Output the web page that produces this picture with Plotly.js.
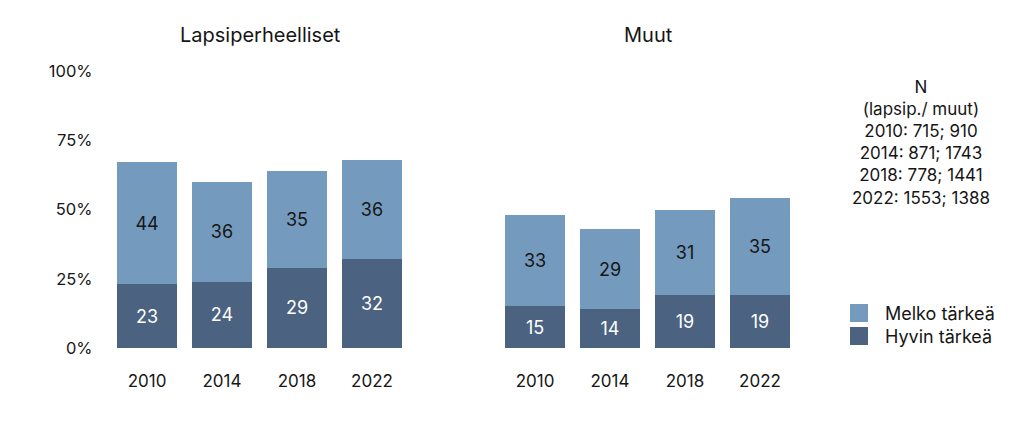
<!DOCTYPE html>
<html><head><meta charset="utf-8">
<script src="https://cdn.plot.ly/plotly-3.0.1.min.js"></script>
<style>html,body{margin:0;padding:0;background:#fff}#chart{width:1024px;height:440px}</style>
</head><body><div id="chart"></div>
<script>
const years = ['2010','2014','2018','2022'];
const lapsHyvin = [23,24,29,32];
const lapsMelko = [44,36,35,36];
const muutHyvin = [15,14,19,19];
const muutMelko = [33,29,31,35];
const panelTitles = ['Lapsiperheelliset','Muut'];
const seriesNames = ['Hyvin tärkeä','Melko tärkeä'];
const nLines = ['N','(lapsip./ muut)','2010: 715; 910','2014: 871; 1743','2018: 778; 1441','2022: 1553; 1388'];
const yTickVals = [0,25,50,75,100];
const yTickText = ['0%','25%','50%','75%','100%'];

const cDark = '#4b6281', cLight = '#749bbe', txt = '#161616';
const FONT = 'Inter, "Open Sans", sans-serif';

function bar(y, name, xa, ya, color, tcolor){
  return {type:'bar', x:years, y:y, name:name, xaxis:xa, yaxis:ya,
    marker:{color:color, line:{width:0}}, text:y.map(String), textposition:'inside',
    insidetextanchor:'middle', textangle:0, constraintext:'none',
    textfont:{family:FONT, size:18, color:tcolor}, hoverinfo:'skip', showlegend:false};
}
const data = [
  bar(lapsHyvin, seriesNames[0], 'x', 'y', cDark, '#ffffff'),
  bar(lapsMelko, seriesNames[1], 'x', 'y', cLight, txt),
  bar(muutHyvin, seriesNames[0], 'x2', 'y2', cDark, '#ffffff'),
  bar(muutMelko, seriesNames[1], 'x2', 'y2', cLight, txt)
];
const W = 1024;
const xax = (d)=>({domain:d, type:'category', showgrid:false, zeroline:false, showline:false,
  ticks:'', ticklabelstandoff:21, tickfont:{family:FONT, size:17, color:txt}, fixedrange:true});
const yax = (anchor, show)=>({anchor:anchor, range:[0,100], tickvals:yTickVals, ticktext:yTickText,
  showticklabels:show, showgrid:false, zeroline:false, showline:false, ticks:'',
  ticklabelstandoff:16, tickfont:{family:FONT, size:16.5, color:txt}, fixedrange:true});

const annotations = [
  {text:panelTitles[0], xref:'paper', yref:'paper', x:260/W, y:1, yshift:36, showarrow:false,
   font:{family:FONT, size:20, color:txt}, xanchor:'center', yanchor:'middle'},
  {text:panelTitles[1], xref:'paper', yref:'paper', x:648/W, y:1, yshift:36, showarrow:false,
   font:{family:FONT, size:20, color:txt}, xanchor:'center', yanchor:'middle'},
  {text:nLines.join('<br>'), xref:'paper', yref:'paper', x:921/W, y:1, yshift:-4, showarrow:false,
   font:{family:FONT, size:17, color:txt}, align:'center', xanchor:'center', yanchor:'top'},
  {text:seriesNames[1], xref:'paper', yref:'paper', x:883/W, y:(348-313)/277, showarrow:false,
   font:{family:FONT, size:18, color:txt}, xanchor:'left', yanchor:'middle'},
  {text:seriesNames[0], xref:'paper', yref:'paper', x:883/W, y:(348-336)/277, showarrow:false,
   font:{family:FONT, size:18, color:txt}, xanchor:'left', yanchor:'middle'}
];
const shapes = [
  {type:'rect', xref:'paper', yref:'paper', x0:850/W, x1:868/W, y0:(348-322)/277, y1:(348-304)/277, fillcolor:cLight, line:{width:0}},
  {type:'rect', xref:'paper', yref:'paper', x0:850/W, x1:868/W, y0:(348-345)/277, y1:(348-327)/277, fillcolor:cDark, line:{width:0}}
];
const layout = {
  width:1024, height:440, barmode:'stack', bargap:0.2,
  margin:{l:0, r:0, t:71, b:92}, paper_bgcolor:'#fff', plot_bgcolor:'#fff',
  xaxis:xax([109.5/W, 409.5/W]), xaxis2:xax([497.5/W, 797.5/W]),
  yaxis:yax('x', true), yaxis2:yax('x2', false),
  annotations:annotations, shapes:shapes, showlegend:false
};
Plotly.newPlot('chart', data, layout, {displayModeBar:false, staticPlot:true});
</script></body></html>
